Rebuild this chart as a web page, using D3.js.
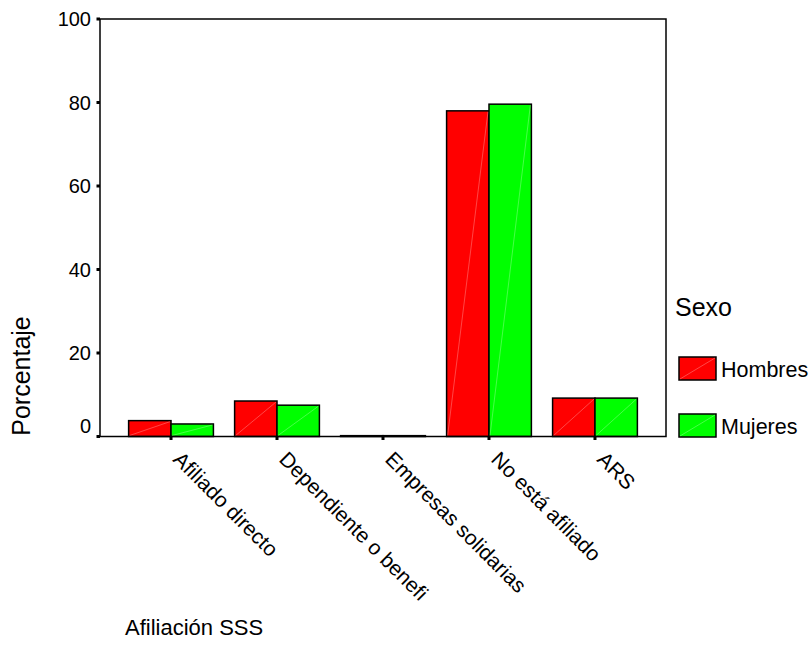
<!DOCTYPE html>
<html>
<head>
<meta charset="utf-8">
<script src="https://cdn.jsdelivr.net/npm/d3@7"></script>
<style>
  html, body { margin: 0; padding: 0; background: #fff; }
  svg { display: block; font-family: "Liberation Sans", Arial, sans-serif; }
</style>
</head>
<body>
<svg id="chart" width="810" height="654"></svg>
<script>
const categories = ["Afiliado directo", "Dependiente o benefi", "Empresas solidarias", "No está afiliado", "ARS"];
const seriesNames = ["Hombres", "Mujeres"];
const hombres = [3.8, 8.5, 0.2, 78.0, 9.2];
const mujeres = [3.0, 7.5, 0.2, 79.6, 9.2];
const yTicks = [0, 20, 40, 60, 80, 100];
const colors = ["#ff0000", "#00ff00"];

const svg = d3.select("#chart");
const L = 100, R = 666, T = 19, B = 436.5;

const x = d3.scaleBand().domain(categories).range([L, R]).paddingInner(0.2).paddingOuter(0.27);
const xs = d3.scaleBand().domain(seriesNames).range([0, x.bandwidth()]);
const y = d3.scaleLinear().domain([0, 100]).range([B, T]);
const color = d3.scaleOrdinal().domain(seriesNames).range(colors);

const rows = categories.map((c, i) => ({ cat: c, vals: [
  { s: "Hombres", v: hombres[i] }, { s: "Mujeres", v: mujeres[i] }] }));

// bars
const g = svg.append("g");
const grp = g.selectAll("g.grp").data(rows).join("g")
  .attr("transform", d => `translate(${x(d.cat)},0)`);
grp.selectAll("rect").data(d => d.vals).join("rect")
  .attr("x", d => xs(d.s))
  .attr("y", d => y(d.v))
  .attr("width", xs.bandwidth())
  .attr("height", d => B - y(d.v))
  .attr("fill", d => color(d.s))
  .attr("stroke", "#000")
  .attr("stroke-width", 1.5);
grp.selectAll("line.diag").data(d => d.vals.filter(e => e.v > 2)).join("line")
  .attr("class", "diag")
  .attr("x1", d => xs(d.s) + 1)
  .attr("y1", B - 1)
  .attr("x2", d => xs(d.s) + xs.bandwidth() - 1)
  .attr("y2", d => y(d.v) + 1)
  .attr("stroke", "#fff")
  .attr("stroke-opacity", 0.35)
  .attr("stroke-width", 0.8);

// frame
svg.append("rect").attr("x", L).attr("y", T).attr("width", R - L).attr("height", B - T)
  .attr("fill", "none").attr("stroke", "#000").attr("stroke-width", 1.5);

// y ticks
svg.selectAll("rect.yt").data(yTicks).join("rect").attr("class", "yt")
  .attr("x", L - 3.5).attr("y", d => y(d) - 1.5).attr("width", 3.5).attr("height", 3)
  .attr("fill", "#000");
svg.selectAll("text.yl").data(yTicks).join("text").attr("class", "yl")
  .attr("x", L - 9)
  .attr("y", d => y(d) + (d === 0 ? -11 : 0))
  .attr("dy", "0.35em")
  .attr("text-anchor", "end")
  .attr("font-size", 20)
  .text(d => d);

// x ticks
svg.selectAll("rect.xt").data(categories).join("rect").attr("class", "xt")
  .attr("x", d => x(d) + x.bandwidth() / 2 - 1.5).attr("y", B).attr("width", 3).attr("height", 3.5)
  .attr("fill", "#000");
svg.selectAll("text.xl").data(categories).join("text").attr("class", "xl")
  .attr("transform", d => `translate(${x(d) + x.bandwidth() / 2 + 1},${B + 24}) rotate(45)`)
  .attr("text-anchor", "start")
  .attr("font-size", 21)
  .text(d => d);

// axis titles
svg.append("text")
  .attr("transform", `translate(30,376) rotate(-90)`)
  .attr("text-anchor", "middle")
  .attr("font-size", 25)
  .text("Porcentaje");
svg.append("text")
  .attr("x", 125).attr("y", 635)
  .attr("font-size", 22)
  .text("Afiliación SSS");

// legend
svg.append("text").attr("x", 675).attr("y", 316).attr("font-size", 25).text("Sexo");
const leg = svg.selectAll("g.leg").data(seriesNames).join("g").attr("class", "leg")
  .attr("transform", (d, i) => `translate(679,${357 + i * 57})`);
leg.append("rect").attr("width", 37).attr("height", 23)
  .attr("fill", d => color(d)).attr("stroke", "#000").attr("stroke-width", 1.5);
leg.append("line").attr("x1", 1).attr("y1", 22).attr("x2", 36).attr("y2", 1)
  .attr("stroke", "#fff").attr("stroke-opacity", 0.35).attr("stroke-width", 0.8);
leg.append("text").attr("x", 42).attr("y", 20).attr("font-size", 21.5).text(d => d);
</script>
</body>
</html>
